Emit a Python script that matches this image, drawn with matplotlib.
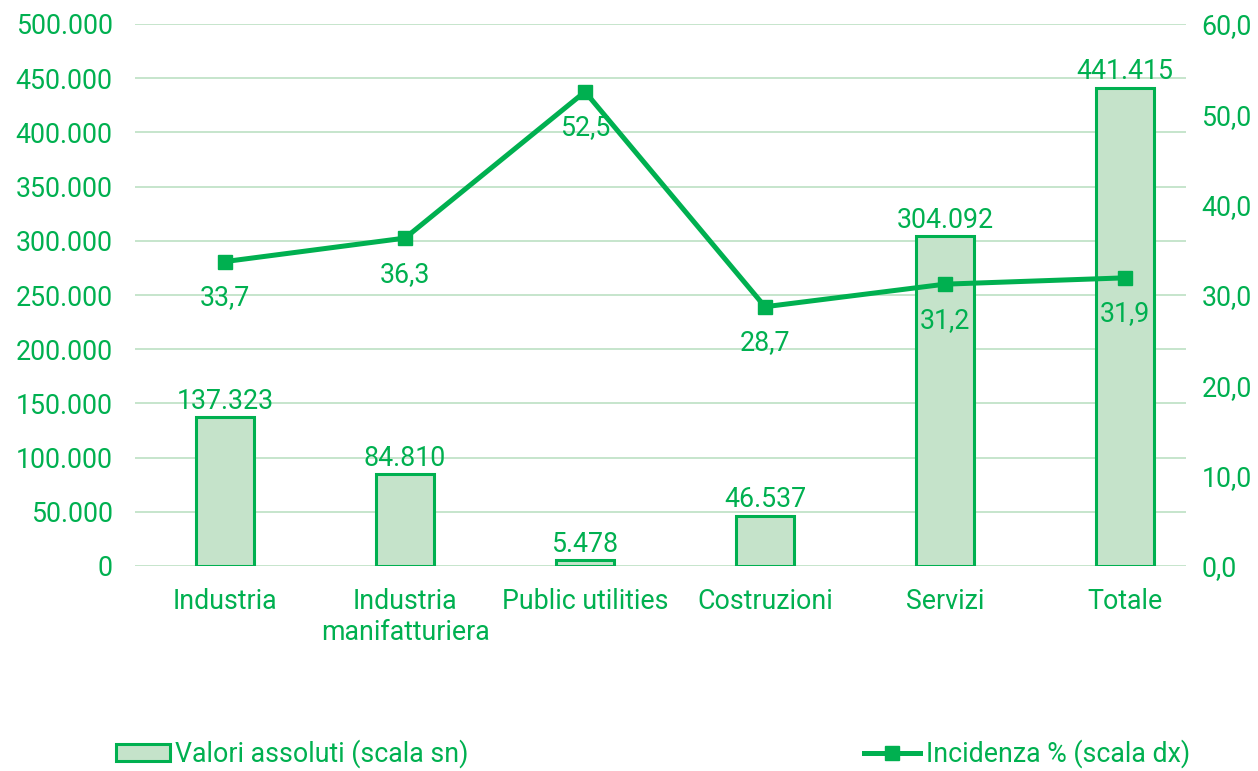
import matplotlib
matplotlib.use("Agg")
import matplotlib.pyplot as plt
from matplotlib.patches import Patch
from matplotlib.lines import Line2D
from matplotlib.ticker import FixedLocator

categories = ["Industria", "Industria\nmanifatturiera", "Public utilities",
              "Costruzioni", "Servizi", "Totale"]
valori_assoluti = [137323, 84810, 5478, 46537, 304092, 441415]
incidenza = [33.7, 36.3, 52.5, 28.7, 31.2, 31.9]
left_ticks = [0, 50000, 100000, 150000, 200000, 250000, 300000, 350000, 400000, 450000, 500000]
right_ticks = [0, 10, 20, 30, 40, 50, 60]
legend_labels = ["Valori assoluti (scala sn)", "Incidenza % (scala dx)"]

GREEN = "#00B050"
FILL = "#C5E3CA"
GRID = "#BCE0C3"
FS = 19.3

plt.rcParams['font.family'] = ['Roboto', 'DejaVu Sans']

def it_thousands(v):
    return f"{int(round(v)):,}".replace(",", ".")

def it_dec(v):
    return f"{v:.1f}".replace(".", ",")

fig = plt.figure(figsize=(12.58, 7.71), dpi=100)
ax = fig.add_axes([135/1258, 1 - 566/771, (1186-135)/1258, (566-24)/771])
ax2 = ax.twinx()

x = list(range(len(categories)))
bars = ax.bar(x, valori_assoluti, width=0.317, color=FILL, edgecolor=GREEN,
              linewidth=2.2, zorder=3)
ax.set_ylim(0, 500000)
ax.set_xlim(-0.5, -0.5 + 1051/180)
ax.yaxis.set_major_locator(FixedLocator(left_ticks))
ax.set_yticklabels([it_thousands(v) for v in left_ticks])
ax.set_xticks(x)
ax.set_xticklabels(categories, linespacing=1.2)
ax.grid(axis='y', color=GRID, linewidth=1.2, zorder=0)
ax.set_axisbelow(True)
for s in ax.spines.values():
    s.set_visible(False)
ax.tick_params(axis='y', length=0, pad=16, labelsize=FS, labelcolor=GREEN)
ax.tick_params(axis='x', length=0, pad=16, labelsize=FS, labelcolor=GREEN)

for xi, v in zip(x, valori_assoluti):
    ax.annotate(it_thousands(v), (xi, v), xytext=(0, 1.5), textcoords='offset points',
                ha='center', va='bottom', fontsize=FS, color=GREEN, zorder=5)

ax2.plot(x, incidenza, color=GREEN, linewidth=3.6, marker='s', markersize=10,
         zorder=4)
ax2.set_ylim(0, 60)
ax2.yaxis.set_major_locator(FixedLocator(right_ticks))
ax2.set_yticklabels([it_dec(v) for v in right_ticks])
for s in ax2.spines.values():
    s.set_visible(False)
ax2.tick_params(axis='y', length=0, pad=11, labelsize=FS, labelcolor=GREEN)

for xi, v in zip(x, incidenza):
    ax2.annotate(it_dec(v), (xi, v), xytext=(0, -26), textcoords='offset points',
                 ha='center', va='center', fontsize=FS, color=GREEN, zorder=6)

h1 = Patch(facecolor=FILL, edgecolor=GREEN, linewidth=2.2)
h2 = Line2D([0], [0], color=GREEN, linewidth=3.6, marker='s', markersize=10)
fig.legend(handles=[h1], labels=[legend_labels[0]], loc='center left',
           bbox_to_anchor=(116/1258, 1 - 754/771), frameon=False, borderpad=0,
           borderaxespad=0, handlelength=2.0, handleheight=0.55, handletextpad=0.2,
           fontsize=FS, labelcolor=GREEN)
fig.legend(handles=[h2], labels=[legend_labels[1]], loc='center left',
           bbox_to_anchor=(864/1258, 1 - 754/771), frameon=False, borderpad=0,
           borderaxespad=0, handlelength=2.1, handletextpad=0.2,
           fontsize=FS, labelcolor=GREEN)

fig.savefig("out.png", dpi=100)
